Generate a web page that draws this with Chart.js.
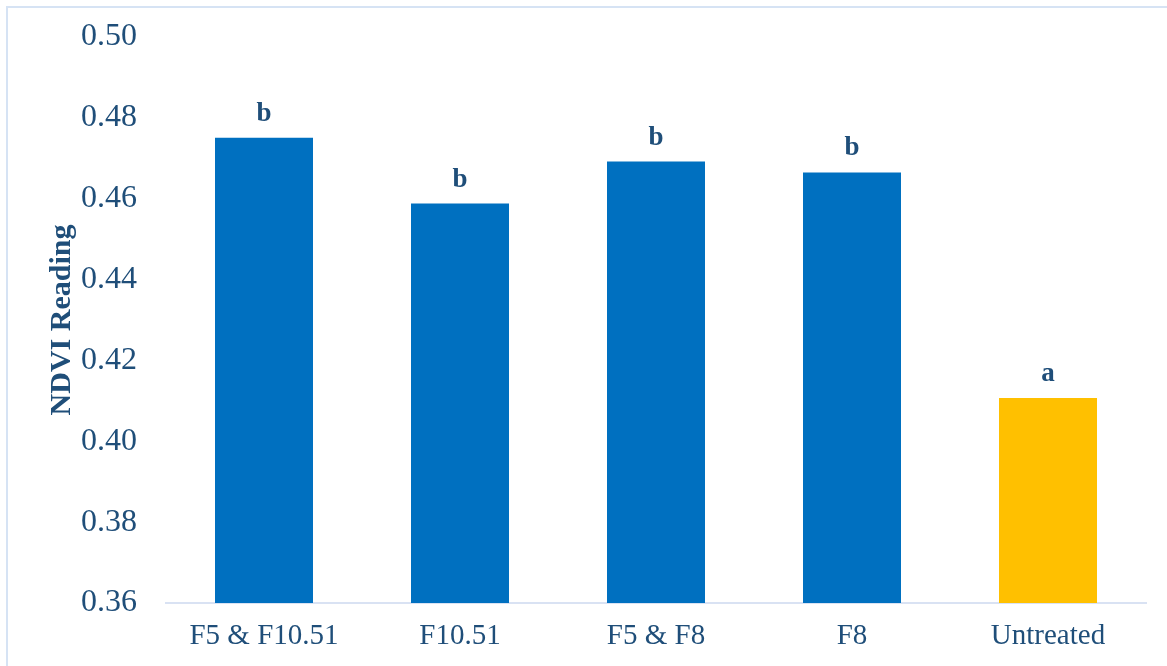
<!DOCTYPE html>
<html lang="en">
<head>
    <meta charset="UTF-8">
    <title>NDVI Reading</title>
    <style>
        body { margin: 0; background: #fff; }
        #wrap { position: absolute; left: 0; top: 0; width: 1167px; height: 666px; }
    </style>
</head>
<body>
    <div id="wrap">
        <canvas id="myChart" width="1167" height="666"></canvas>
    </div>

    <script src="https://cdn.jsdelivr.net/npm/chart.js"></script>

    <script>
        let labels = ['F5 & F10.51', 'F10.51', 'F5 & F8', 'F8', 'Untreated'];
        let values = [0.4751, 0.4588, 0.4692, 0.4665, 0.4107];
        let letters = ['b', 'b', 'b', 'b', 'a'];
        let barColors = ['#0070C0', '#0070C0', '#0070C0', '#0070C0', '#FFC000'];
        let yTicks = [0.36, 0.38, 0.40, 0.42, 0.44, 0.46, 0.48, 0.50];

        const textColor = '#1F4E79';
        const serif = "'Liberation Serif', 'Times New Roman', serif";

        // letters above the bars + pale frame edge (top and left only, rest is cropped off)
        const letterPlugin = {
            id: 'letters',
            afterDatasetsDraw(chart) {
                const ctx = chart.ctx;
                const meta = chart.getDatasetMeta(0);
                ctx.save();
                ctx.fillStyle = textColor;
                ctx.font = 'bold 27px ' + serif;
                ctx.textAlign = 'center';
                ctx.textBaseline = 'alphabetic';
                meta.data.forEach((bar, i) => {
                    ctx.fillText(letters[i], bar.x, bar.y - 17);
                });
                ctx.restore();
            },
            beforeDraw(chart) {
                const ctx = chart.ctx;
                ctx.save();
                ctx.strokeStyle = '#D6E3F4';
                ctx.lineWidth = 2;
                ctx.beginPath();
                ctx.moveTo(7, 666);
                ctx.lineTo(7, 7);
                ctx.lineTo(1167, 7);
                ctx.stroke();
                ctx.restore();
            }
        };

        const ctx = document.getElementById('myChart');

        let chart = new Chart(ctx, {
            type: 'bar',
            data: {
                labels: labels,
                datasets: [{
                    data: values,
                    backgroundColor: barColors,
                    barPercentage: 0.5,
                    categoryPercentage: 1.0
                }]
            },
            options: {
                responsive: false,
                animation: false,
                layout: {
                    padding: { top: 37, right: 21, bottom: 8, left: 0 }
                },
                plugins: {
                    legend: { display: false },
                    tooltip: { enabled: false }
                },
                scales: {
                    x: {
                        grid: { display: false, drawTicks: false },
                        border: { display: true, color: '#D9E2F3', width: 2 },
                        ticks: {
                            color: textColor,
                            font: { family: serif, size: 29 },
                            padding: 16,
                            maxRotation: 0
                        },
                        afterFit: s => { s.height = 55; s.paddingLeft = 0; s.paddingRight = 0; }
                    },
                    y: {
                        min: 0.36,
                        max: 0.50,
                        grid: { display: false, drawTicks: false },
                        border: { display: false },
                        afterBuildTicks: s => { s.ticks = yTicks.map(v => ({ value: v })); },
                        ticks: {
                            color: textColor,
                            font: { family: serif, size: 32 },
                            padding: 29,
                            callback: v => v.toFixed(2)
                        },
                        title: {
                            display: true,
                            text: 'NDVI Reading',
                            color: textColor,
                            font: { family: serif, size: 30, weight: 'bold' },
                            padding: { top: 44, bottom: 0 }
                        },
                        afterFit: s => { s.width = 166; s.paddingTop = 0; s.paddingBottom = 0; }
                    }
                }
            },
            plugins: [letterPlugin]
        });
    </script>
</body>
</html>
